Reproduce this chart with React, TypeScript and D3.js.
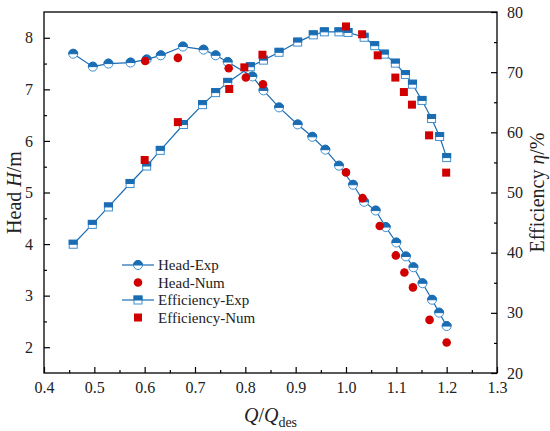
import React, { useRef, useEffect } from 'react';
import * as d3 from 'd3';

// flow ratio Q/Qdes and measured / simulated values
const headExpQ = [0.458, 0.497, 0.528, 0.572, 0.604, 0.632, 0.676, 0.717, 0.741, 0.765, 0.814, 0.836, 0.867, 0.904, 0.933, 0.959, 0.986, 1.014, 1.036, 1.059, 1.079, 1.100, 1.119, 1.134, 1.152, 1.171, 1.185, 1.200];
const headExpH = [7.69, 7.44, 7.50, 7.52, 7.58, 7.66, 7.83, 7.77, 7.66, 7.53, 7.25, 6.98, 6.65, 6.32, 6.08, 5.83, 5.52, 5.15, 4.82, 4.65, 4.33, 4.03, 3.76, 3.55, 3.24, 2.92, 2.67, 2.41];

const headNumQ = [0.601, 0.666, 0.767, 0.801, 0.835, 1.000, 1.033, 1.067, 1.099, 1.116, 1.133, 1.166, 1.200];
const headNumH = [7.55, 7.61, 7.41, 7.23, 7.10, 5.39, 4.89, 4.35, 3.78, 3.45, 3.16, 2.53, 2.09];

const effExpQ = [0.458, 0.496, 0.528, 0.571, 0.604, 0.631, 0.677, 0.715, 0.741, 0.765, 0.810, 0.836, 0.867, 0.904, 0.935, 0.957, 0.986, 1.004, 1.036, 1.057, 1.076, 1.098, 1.118, 1.132, 1.151, 1.170, 1.186, 1.200];
const effExpEta = [41.4, 44.7, 47.6, 51.5, 54.4, 57.0, 61.3, 64.6, 66.6, 68.3, 70.9, 72.0, 73.3, 75.0, 76.2, 76.7, 76.7, 76.6, 75.8, 74.4, 73.0, 71.5, 69.6, 68.0, 65.3, 62.3, 59.3, 55.8];

const effNumQ = [0.600, 0.666, 0.768, 0.798, 0.834, 1.000, 1.032, 1.063, 1.098, 1.115, 1.131, 1.165, 1.199];
const effNumEta = [55.4, 61.7, 67.2, 70.8, 72.9, 77.6, 76.3, 72.8, 69.1, 66.7, 64.6, 59.5, 53.3];

const xTicks = [0.4, 0.5, 0.6, 0.7, 0.8, 0.9, 1.0, 1.1, 1.2, 1.3];
const headTicks = [2, 3, 4, 5, 6, 7, 8];
const effTicks = [20, 30, 40, 50, 60, 70, 80];
const legendLabels = ['Head-Exp', 'Head-Num', 'Efficiency-Exp', 'Efficiency-Num'];

const BLUE = '#1a6cb3';
const RED = '#d10000';
const FONT = 'Liberation Serif, DejaVu Serif, serif';

const App = () => {
  const svgRef = useRef(null);
  const width = 550;
  const height = 431;

  useEffect(() => {
    document.body.style.margin = '0';
    const svg = d3.select(svgRef.current);
    svg.selectAll('*').remove();

    const margin = { top: 12, right: 53, bottom: 58, left: 44 };
    const w = width - margin.left - margin.right;
    const h = height - margin.top - margin.bottom;
    const g = svg.append('g').attr('transform', `translate(${margin.left},${margin.top})`);

    const x = d3.scaleLinear().domain([0.4, 1.3]).range([0, w]);
    const yH = d3.scaleLinear().domain([1.5, 8.5]).range([h, 0]);
    const yE = d3.scaleLinear().domain([20, 80]).range([h, 0]);

    // frame
    g.append('rect').attr('width', w).attr('height', h)
      .attr('fill', 'none').attr('stroke', '#000').attr('stroke-width', 1.3);

    const styleAxis = (sel) => {
      sel.attr('font-family', FONT).attr('font-size', 16);
      sel.select('.domain').remove();
      sel.selectAll('line').attr('stroke', '#000').attr('stroke-width', 1.2);
      sel.selectAll('text').attr('fill', '#222')
        .attr('font-family', FONT).attr('font-size', 16);
    };

    // bottom axis, inward ticks
    const xMinor = d3.range(0.45, 1.3, 0.1);
    g.append('g').attr('transform', `translate(0,${h})`)
      .call(d3.axisBottom(x).tickValues(xMinor).tickSize(-3).tickFormat(() => ''))
      .call(styleAxis);
    g.append('g').attr('transform', `translate(0,${h})`)
      .call(d3.axisBottom(x).tickValues(xTicks).tickSize(-6).tickPadding(9).tickFormat(d3.format('.1f')))
      .call(styleAxis);

    // left axis
    g.append('g')
      .call(d3.axisLeft(yH).tickValues(d3.range(2.5, 8.5, 1)).tickSize(-3).tickFormat(() => ''))
      .call(styleAxis);
    g.append('g')
      .call(d3.axisLeft(yH).tickValues(headTicks).tickSize(-6).tickPadding(11).tickFormat(d3.format('d')))
      .call(styleAxis);

    // right axis
    g.append('g').attr('transform', `translate(${w},0)`)
      .call(d3.axisRight(yE).tickValues(d3.range(25, 80, 10)).tickSize(-3).tickFormat(() => ''))
      .call(styleAxis);
    g.append('g').attr('transform', `translate(${w},0)`)
      .call(d3.axisRight(yE).tickValues(effTicks).tickSize(-6).tickPadding(10))
      .call(styleAxis);

    // axis titles
    const leftTitle = svg.append('text')
      .attr('transform', `translate(14,${margin.top + h / 2}) rotate(-90)`)
      .attr('text-anchor', 'middle').attr('dy', '0.35em')
      .attr('font-family', FONT).attr('font-size', 20).attr('fill', '#222');
    leftTitle.append('tspan').text('Head\u00a0');
    leftTitle.append('tspan').attr('font-style', 'italic').text('H');
    leftTitle.append('tspan').text('/m');

    const rightTitle = svg.append('text')
      .attr('transform', `translate(537,${margin.top + h / 2}) rotate(-90)`)
      .attr('text-anchor', 'middle').attr('dy', '0.35em')
      .attr('font-family', FONT).attr('font-size', 20).attr('fill', '#222');
    rightTitle.append('tspan').text('Efficiency\u00a0');
    rightTitle.append('tspan').attr('font-style', 'italic').text('η');
    rightTitle.append('tspan').text('/%');

    const bottomTitle = svg.append('text')
      .attr('x', margin.left + w / 2).attr('y', 422)
      .attr('text-anchor', 'middle')
      .attr('font-family', FONT).attr('font-size', 20).attr('fill', '#222');
    bottomTitle.append('tspan').attr('font-style', 'italic').text('Q');
    bottomTitle.append('tspan').text('/');
    bottomTitle.append('tspan').attr('font-style', 'italic').text('Q');
    bottomTitle.append('tspan').attr('dy', 5).attr('font-size', 14).text('des');

    // markers
    const halfCircle = (sel, cx, cy, r) => {
      sel.append('circle').attr('cx', cx).attr('cy', cy).attr('r', r)
        .attr('fill', '#fff').attr('stroke', '#3f8fd0').attr('stroke-width', 1);
      sel.append('path')
        .attr('d', `M${cx - r},${cy} A${r},${r} 0 0 1 ${cx + r},${cy} Z`)
        .attr('fill', BLUE).attr('stroke', BLUE).attr('stroke-width', 1);
    };
    const halfSquare = (sel, cx, cy, s) => {
      sel.append('rect').attr('x', cx - s / 2).attr('y', cy - s / 2).attr('width', s).attr('height', s)
        .attr('fill', '#fff').attr('stroke', '#3f8fd0').attr('stroke-width', 1);
      sel.append('rect').attr('x', cx - s / 2).attr('y', cy - s / 2).attr('width', s).attr('height', s / 2)
        .attr('fill', BLUE).attr('stroke', BLUE).attr('stroke-width', 1);
    };

    const line = d3.line();

    // head exp
    const headExp = headExpQ.map((q, i) => [x(q), yH(headExpH[i])]);
    g.append('path').attr('d', line(headExp)).attr('fill', 'none').attr('stroke', BLUE).attr('stroke-width', 1.2);
    // efficiency exp
    const effExp = effExpQ.map((q, i) => [x(q), yE(effExpEta[i])]);
    g.append('path').attr('d', line(effExp)).attr('fill', 'none').attr('stroke', BLUE).attr('stroke-width', 1.2);

    const mk = g.append('g');
    headExp.forEach(([cx, cy]) => halfCircle(mk, cx, cy, 4.5));
    effExp.forEach(([cx, cy]) => halfSquare(mk, cx, cy, 8));

    headNumQ.forEach((q, i) => {
      mk.append('circle').attr('cx', x(q)).attr('cy', yH(headNumH[i])).attr('r', 4.3).attr('fill', RED);
    });
    effNumQ.forEach((q, i) => {
      mk.append('rect').attr('x', x(q) - 4).attr('y', yE(effNumEta[i]) - 4)
        .attr('width', 8).attr('height', 8).attr('fill', RED);
    });

    // legend
    const lg = svg.append('g').attr('transform', 'translate(122,265)');
    legendLabels.forEach((label, i) => {
      const row = lg.append('g').attr('transform', `translate(0,${i * 17.5})`);
      if (i === 0 || i === 2) {
        row.append('line').attr('x1', 0).attr('x2', 32).attr('y1', 0).attr('y2', 0)
          .attr('stroke', BLUE).attr('stroke-width', 1.2);
      }
      if (i === 0) halfCircle(row, 16, 0, 4.5);
      if (i === 1) row.append('circle').attr('cx', 16).attr('cy', 0).attr('r', 4.3).attr('fill', RED);
      if (i === 2) halfSquare(row, 16, 0, 8);
      if (i === 3) row.append('rect').attr('x', 12).attr('y', -4).attr('width', 8).attr('height', 8).attr('fill', RED);
      row.append('text').attr('x', 36).attr('dy', '0.35em').text(label)
        .attr('font-family', FONT).attr('font-size', 15).attr('fill', '#222');
    });
  }, []);

  return (
    <svg ref={svgRef} width={width} height={height} style={{ display: 'block', background: '#fff' }}></svg>
  );
};

export default App;
